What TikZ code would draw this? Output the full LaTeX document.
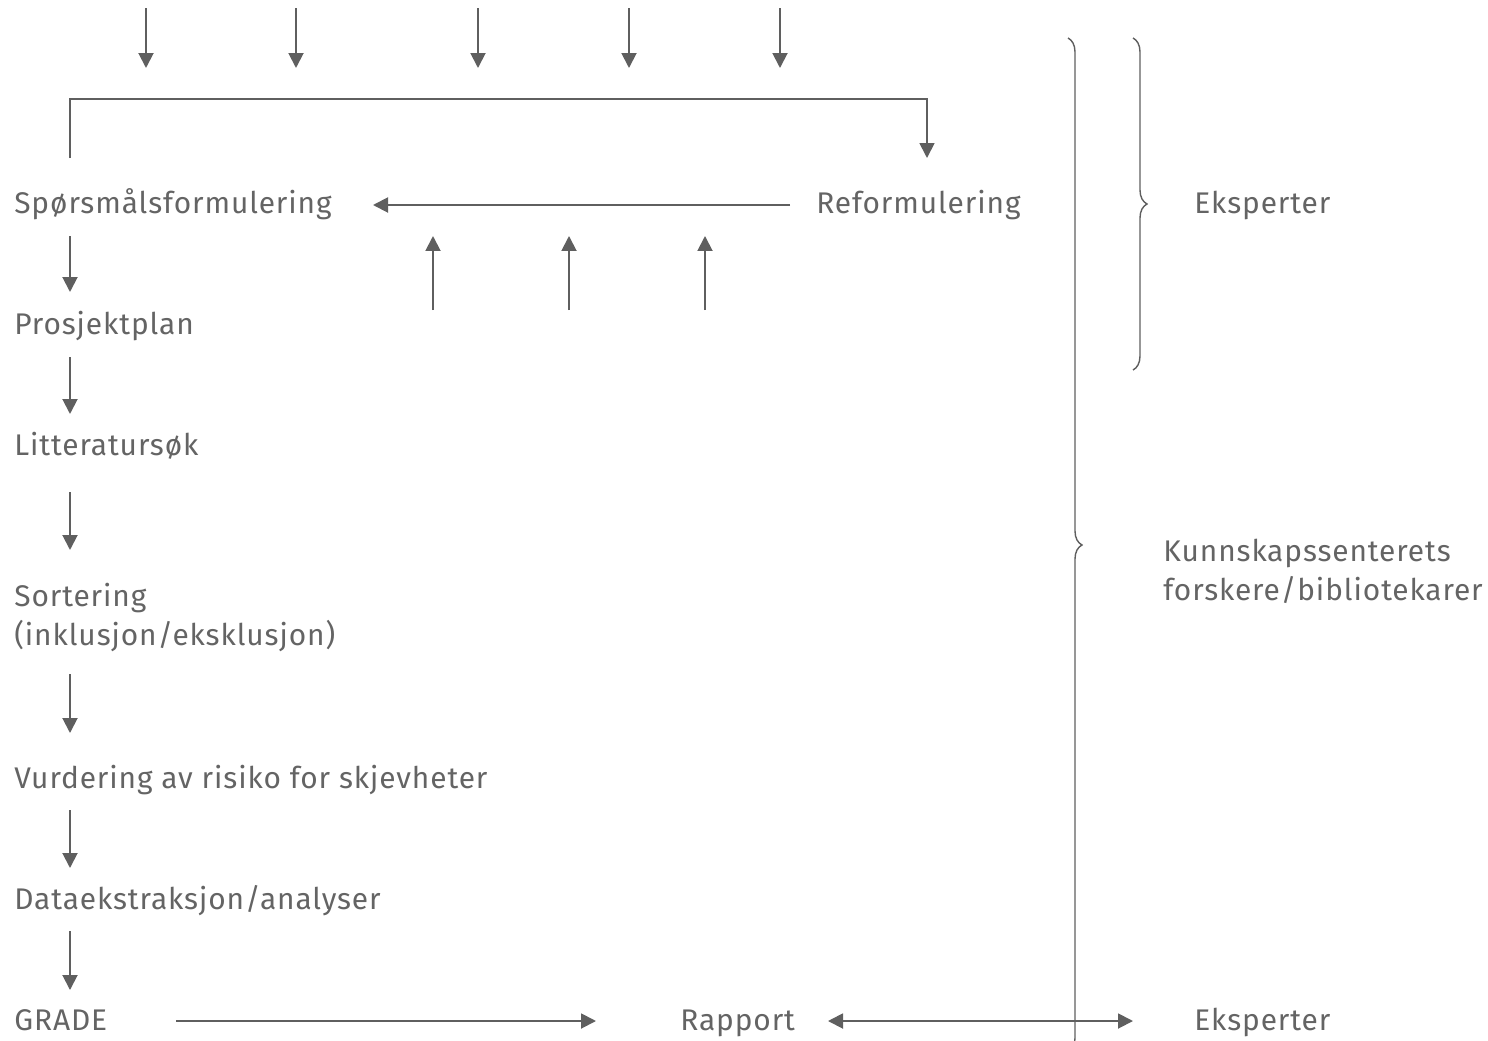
\documentclass[tikz,border=0pt]{standalone}
\usepackage{fontspec}
\setmainfont{Fira Sans}[LetterSpace=3]
\usetikzlibrary{arrows.meta,decorations.pathreplacing}
\definecolor{linegray}{RGB}{95,95,95}
\definecolor{textgray}{RGB}{100,100,100}

\begin{document}
\begin{tikzpicture}[x=0.02cm, y=-0.02cm,
    label/.style={anchor=base west, inner sep=0pt, text=textgray, font=\fontsize{17}{22.2}\selectfont},
    flow/.style={draw=linegray, line width=1.1pt, -{Triangle[length=0.3cm, width=0.3cm]}},
    twoway/.style={flow, {Triangle[length=0.3cm, width=0.3cm]}-{Triangle[length=0.3cm, width=0.3cm]}},
    curly/.style={draw=linegray, line width=0.8pt, decorate, decoration={brace, amplitude=0.28cm}}]
    \useasboundingbox (0,0) rectangle (1488,1041);

    % Steps
    \node[label] (spm) at (14,213) {Spørsmålsformulering};
    \node[label] (plan) at (14,334) {Prosjektplan};
    \node[label] (lit) at (14,455) {Litteratursøk};
    \node[label] (sort) at (14,606) {\begin{tabular}[t]{@{}l@{}}Sortering\\(inklusjon/eksklusjon)\end{tabular}};
    \node[label] (vurd) at (14,788) {Vurdering av risiko for skjevheter};
    \node[label] (data) at (14,909) {Dataekstraksjon/analyser};
    \node[label] (grade) at (14,1030) {GRADE};
    \node[label] (rapport) at (680,1030) {Rapport};
    \node[label] (reform) at (816,213) {Reformulering};

    % Groups
    \node[label] (eksp) at (1194,213) {Eksperter};
    \node[label] (kunn) at (1163,561) {\begin{tabular}[t]{@{}l@{}}Kunnskapssenterets\\forskere/bibliotekarer\end{tabular}};
    \node[label] (eksp2) at (1194,1030) {Eksperter};

    % Main flow
    \draw[flow] ([shift={(56,23)}]spm.base west) -- ([shift={(56,-42)}]plan.base west);
    \draw[flow] ([shift={(56,23)}]plan.base west) -- ([shift={(56,-41)}]lit.base west);
    \draw[flow] ([shift={(56,37)}]lit.base west) -- ([shift={(56,-56)}]sort.base west);
    \draw[flow] ([shift={(56,68)}]sort.base west) -- ([shift={(56,-55)}]vurd.base west);
    \draw[flow] ([shift={(56,22)}]vurd.base west) -- ([shift={(56,-41)}]data.base west);
    \draw[flow] ([shift={(56,22)}]data.base west) -- ([shift={(56,-40)}]grade.base west);
    \draw[flow] ([shift={(162,-9)}]grade.base west) -- ([shift={(-84,-9)}]rapport.base west);
    \draw[twoway] ([shift={(148,-9)}]rapport.base west) -- ([shift={(-61,-9)}]eksp2.base west);

    % Reformulation loop
    \draw[flow] ([shift={(-26,-8)}]reform.base west) -- ([shift={(359,-8)}]spm.base west);
    \draw[draw=linegray, line width=1pt, -{Triangle[length=0.3cm, width=0.3cm]}]
        ([shift={(56,-55)}]spm.base west) -- ++(0,-59) -| ([shift={(111,-55)}]reform.base west);

    % Inputs
    \foreach \x [count=\i] in {146,296,478,629,780} {
        \coordinate (src\i) at (\x,8);
        \coordinate (dst\i) at (\x,68);
        \draw[flow] (src\i) -- (dst\i);
    }
    \foreach \x [count=\i] in {433,569,705} {
        \coordinate (low\i) at (\x,310);
        \coordinate (high\i) at (\x,236);
        \draw[flow] (low\i) -- (high\i);
    }

    % Braces
    \coordinate (bigtop) at (1068,38);
    \coordinate (bigbot) at (1068,1052);
    \coordinate (smalltop) at (1133,38);
    \coordinate (smallbot) at (1133,370);
    \draw[curly] (bigtop) -- (bigbot);
    \draw[curly] (smalltop) -- (smallbot);
\end{tikzpicture}
\end{document}
